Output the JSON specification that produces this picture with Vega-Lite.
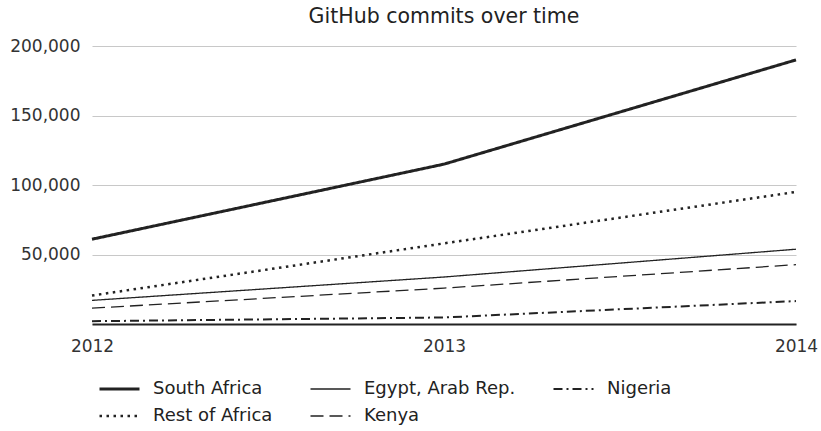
{
  "$schema": "https://vega.github.io/schema/vega-lite/v6.json",
  "autosize": "none",
  "width": 704,
  "height": 278,
  "padding": {"left": 92, "top": 46, "right": 25, "bottom": 107},
  "background": "white",
  "title": {"text": "GitHub commits over time", "anchor": "middle", "fontSize": 20.5, "fontWeight": "normal", "font": "DejaVu Sans", "color": "#222", "offset": 10},
  "config": {
    "view": {"stroke": null},
    "font": "DejaVu Sans"
  },
  "data": {"values": [
    {"year": "2012", "country": "South Africa", "commits": 61000},
    {"year": "2013", "country": "South Africa", "commits": 115000},
    {"year": "2014", "country": "South Africa", "commits": 190000},
    {"year": "2012", "country": "Rest of Africa", "commits": 20500},
    {"year": "2013", "country": "Rest of Africa", "commits": 58000},
    {"year": "2014", "country": "Rest of Africa", "commits": 95000},
    {"year": "2012", "country": "Egypt, Arab Rep.", "commits": 17000},
    {"year": "2013", "country": "Egypt, Arab Rep.", "commits": 33800},
    {"year": "2014", "country": "Egypt, Arab Rep.", "commits": 53800},
    {"year": "2012", "country": "Kenya", "commits": 11400},
    {"year": "2013", "country": "Kenya", "commits": 25800},
    {"year": "2014", "country": "Kenya", "commits": 42700},
    {"year": "2012", "country": "Nigeria", "commits": 2000},
    {"year": "2013", "country": "Nigeria", "commits": 4700},
    {"year": "2014", "country": "Nigeria", "commits": 16500}
  ]},
  "mark": {"type": "line", "color": "#222"},
  "encoding": {
    "x": {"field": "year", "type": "ordinal",
      "scale": {"type": "point", "padding": 0},
      "axis": {"title": null, "labelAngle": 0, "grid": false, "ticks": false, "labelOverlap": false,
        "domain": true, "domainColor": "#222", "domainWidth": 2, "labelFontSize": 17, "labelColor": "#333", "labelPadding": 14, "labelFont": "DejaVu Sans"}},
    "y": {"field": "commits", "type": "quantitative",
      "scale": {"domain": [0, 200000], "nice": false},
      "axis": {"title": null, "values": [0, 50000, 100000, 150000, 200000], "domain": false, "ticks": false,
        "labelExpr": "datum.value == 0 ? '' : format(datum.value, ',')",
        "gridColor": "#c8c8c8", "gridWidth": 1.2, "labelFontSize": 17, "labelColor": "#333", "labelPadding": 12, "labelFont": "DejaVu Sans"}},
    "strokeDash": {"field": "country", "type": "nominal",
      "scale": {"type": "ordinal", "domain": ["South Africa", "Egypt, Arab Rep.", "Nigeria", "Rest of Africa", "Kenya"],
        "range": [[1, 0], [1, 0], [9, 4, 2, 4], [2.5, 4.5], [13, 6]]},
      "legend": {"title": null, "orient": "none", "legendX": 6, "legendY": 332, "columns": 3, "direction": "horizontal",
        "symbolType": "stroke", "symbolSize": 1600, "clipHeight": 22, "symbolStrokeColor": "#222", "labelFontSize": 18, "labelColor": "#222", "labelOffset": 12, "columnPadding": 36, "rowPadding": 5, "labelFont": "DejaVu Sans"}},
    "strokeWidth": {"field": "country", "type": "nominal",
      "scale": {"type": "ordinal", "domain": ["South Africa", "Egypt, Arab Rep.", "Nigeria", "Rest of Africa", "Kenya"],
        "range": [3, 1.3, 2, 2.5, 1.3]},
      "legend": {"title": null, "orient": "none", "legendX": 6, "legendY": 332, "columns": 3, "direction": "horizontal",
        "symbolType": "stroke", "symbolSize": 1600, "clipHeight": 22, "symbolStrokeColor": "#222", "labelFontSize": 18, "labelColor": "#222", "labelOffset": 12, "columnPadding": 36, "rowPadding": 5, "labelFont": "DejaVu Sans"}}
  }
}
